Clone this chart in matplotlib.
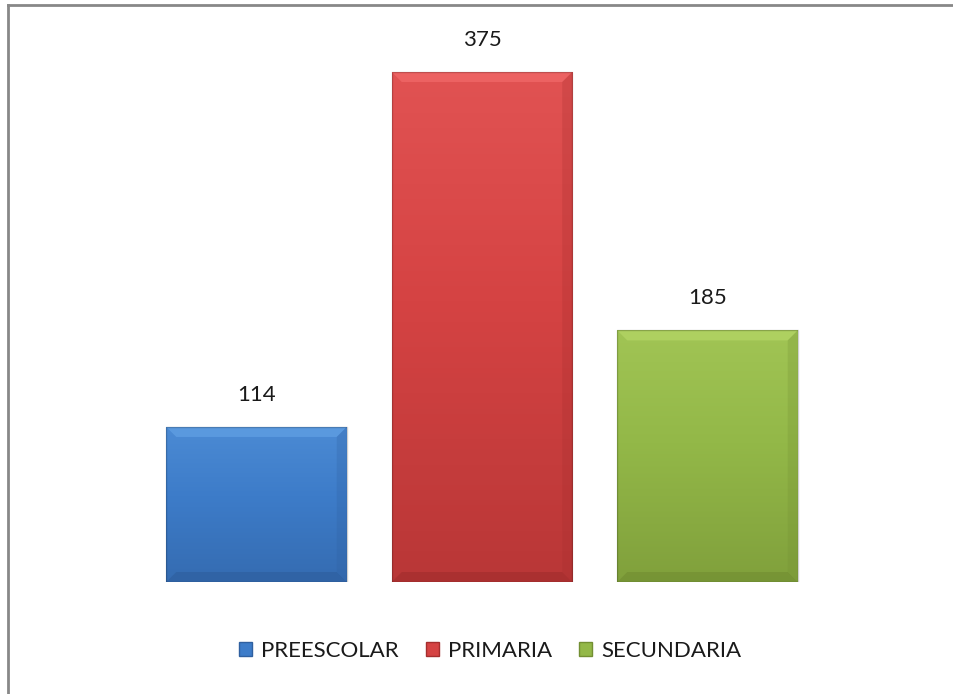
import matplotlib.pyplot as plt
from matplotlib.patches import Polygon, Rectangle
from matplotlib.lines import Line2D
from matplotlib.colors import LinearSegmentedColormap
import numpy as np

categories = ['PREESCOLAR', 'PRIMARIA', 'SECUNDARIA']
values = [114, 375, 185]
colors = ['#3d7cc9', '#d54343', '#93b848']
light = ['#5c9be0', '#ee6464', '#b0d262']
dark = ['#2f60a0', '#a52e2e', '#738f33']

plt.rcParams['font.family'] = ['Lato', 'DejaVu Sans']

W, H = 954, 694
fig = plt.figure(figsize=(W / 100, H / 100), dpi=100)
# axes placed in pixels: x from 31 to 933, y baseline at 582
ax = fig.add_axes([31 / W, (H - 582) / H, 902 / W, 544 / H])
ax.set_xlim(-1, 3)
ax.set_ylim(0, 400)
ax.axis('off')

x = np.arange(len(categories))
bars = ax.bar(x, values, width=0.8, color=colors)

# pixel -> data helpers for bevel size
px_x = 4.0 / 902
px_y = 400.0 / 544
bev = 10

for b, c, lc, dc in zip(bars, colors, light, dark):
    x0, w, h = b.get_x(), b.get_width(), b.get_height()
    x1 = x0 + w
    # vertical gradient inside bar
    grad = np.linspace(1, 0, 100).reshape(-1, 1)
    cmap = LinearSegmentedColormap.from_list('g', [dc, c, lc])
    im = ax.imshow(grad, cmap=cmap, extent=[x0, x1, 0, h], aspect='auto',
                   zorder=2, vmin=-0.4, vmax=1.5)
    im.set_clip_path(b)
    bx, by = bev * px_x, bev * px_y
    ax.add_patch(Polygon([[x0, h], [x1, h], [x1 - bx, h - by], [x0 + bx, h - by]],
                         closed=True, color=lc, alpha=0.9, lw=0, zorder=3))
    ax.add_patch(Polygon([[x0, 0], [x1, 0], [x1 - bx, by], [x0 + bx, by]],
                         closed=True, color=dc, alpha=0.7, lw=0, zorder=3))
    ax.add_patch(Polygon([[x1, 0], [x1, h], [x1 - bx, h - by], [x1 - bx, by]],
                         closed=True, color=dc, alpha=0.25, lw=0, zorder=3))
    ax.add_patch(Rectangle((x0, 0), w, h, fill=False, ec='#00000030', lw=1, zorder=4))
    ax.text(b.get_x() + w / 2, h + 32 * px_y, str(int(h)), ha='center', va='center',
            fontsize=16, color='#1a1a1a')

handles = [Rectangle((0, 0), 1, 1, fc=c, ec=dc) for c, dc in zip(colors, dark)]
fig.legend(handles, categories, loc='center', bbox_to_anchor=(490 / W, (H - 651) / H),
           ncol=3, frameon=False, fontsize=16, handlelength=0.6, handleheight=0.6,
           handletextpad=0.4, columnspacing=1.2, labelcolor='#1a1a1a')

# partial border (top and left)
fig.add_artist(Line2D([8 / W, 1], [(H - 5) / H, (H - 5) / H], color='#888888', lw=2))
fig.add_artist(Line2D([8 / W, 8 / W], [0, (H - 5) / H], color='#888888', lw=2))

fig.savefig('out.png', dpi=100)
